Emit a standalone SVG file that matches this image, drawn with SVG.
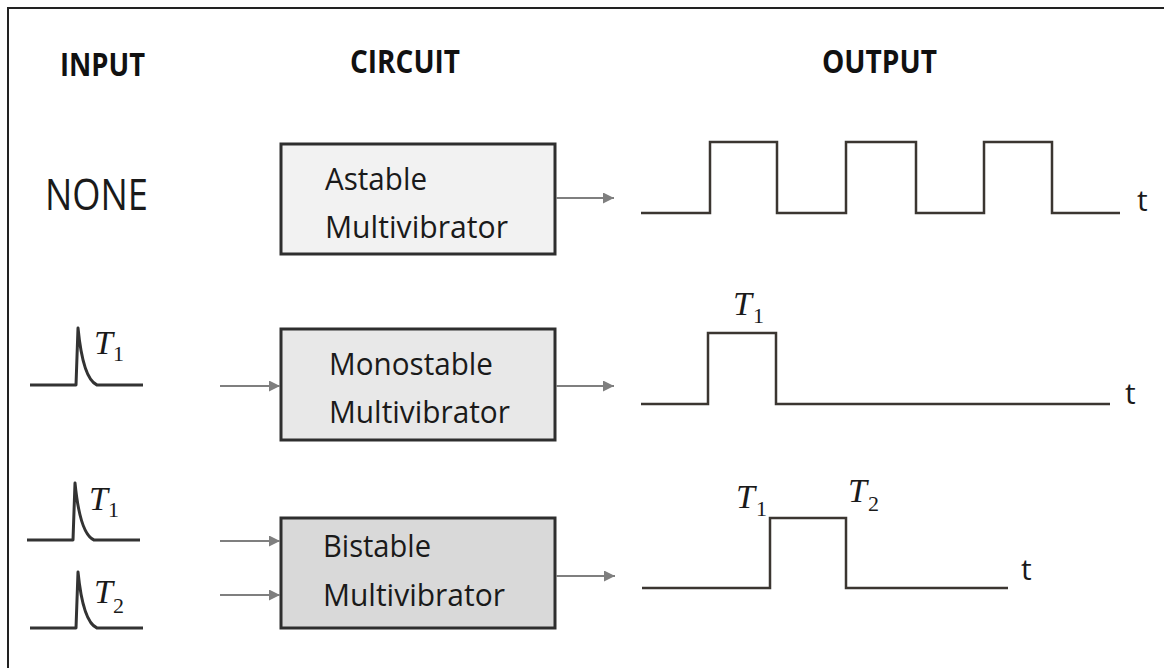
<svg xmlns="http://www.w3.org/2000/svg" width="1164" height="668" viewBox="0 0 1164 668">
  <defs>
    <marker id="arrowhead" viewBox="0 0 10 10" refX="10" refY="5" markerWidth="14" markerHeight="11" markerUnits="userSpaceOnUse" orient="auto">
      <path d="M0,0 L10,5 L0,10 z" fill="#7f7f7f"/>
    </marker>
  </defs>
  <style>
    .frame{fill:none;stroke:#222;stroke-width:2}
    .hdr{font-family:"Open Sans","Liberation Sans",sans-serif;font-weight:bold;font-size:33px;fill:#111}
    .lbl{font-family:"Open Sans","Liberation Sans",sans-serif;font-size:31px;fill:#1a1a1a}
    .big{font-size:44px}
    .tlbl{font-family:"Open Sans","Liberation Sans",sans-serif;font-size:30px;fill:#1a1a1a}
    .box{stroke:#2e2e2e;stroke-width:3}
    .wave{fill:none;stroke:#3b3631;stroke-width:2.5;stroke-linejoin:miter}
    .spike{fill:none;stroke:#333;stroke-width:3;stroke-linejoin:round}
    .conn{stroke:#7f7f7f;stroke-width:1.8;marker-end:url(#arrowhead)}
    .math{font-family:"Liberation Serif",serif;font-style:italic;font-size:34px;fill:#1a1a1a}
    .sub{font-family:"Liberation Serif",serif;font-style:normal;font-size:22px;fill:#1a1a1a}
  </style>

  <rect width="1164" height="668" fill="#fff"/>
  <!-- outer frame: top and left edges -->
  <path class="frame" d="M8,668 V8 H1164"/>

  <!-- column headers -->
  <g id="headers">
    <text class="hdr" x="60" y="76" textLength="85" lengthAdjust="spacingAndGlyphs">INPUT</text>
    <text class="hdr" x="350" y="73" textLength="110" lengthAdjust="spacingAndGlyphs">CIRCUIT</text>
    <text class="hdr" x="822" y="73" textLength="115" lengthAdjust="spacingAndGlyphs">OUTPUT</text>
  </g>

  <!-- inputs -->
  <g id="input-none">
    <text class="lbl big" x="45" y="210" textLength="103" lengthAdjust="spacingAndGlyphs">NONE</text>
  </g>
  <g id="input-mono">
    <path class="spike" d="M30,385 H76 L78,328 Q83,379 97,385 H143"/>
    <text class="math" x="94" y="354">T</text><text class="sub" x="113" y="361">1</text>
  </g>
  <g id="input-bi-t1">
    <path class="spike" d="M27,540 H73 L75,483 Q80,534 94,540 H140"/>
    <text class="math" x="89" y="510">T</text><text class="sub" x="108" y="517">1</text>
  </g>
  <g id="input-bi-t2">
    <path class="spike" d="M30,628 H76 L78,572 Q83,622 97,628 H143"/>
    <text class="math" x="94" y="603">T</text><text class="sub" x="113" y="613">2</text>
  </g>

  <!-- circuits -->
  <g id="astable">
    <rect class="box" x="281" y="144" width="274" height="110" fill="#f2f2f2"/>
    <text class="lbl" x="325" y="190" textLength="102" lengthAdjust="spacingAndGlyphs">Astable</text>
    <text class="lbl" x="325" y="238" textLength="183" lengthAdjust="spacingAndGlyphs">Multivibrator</text>
  </g>
  <g id="monostable">
    <rect class="box" x="281" y="329" width="274" height="111" fill="#e8e8e8"/>
    <text class="lbl" x="329" y="375" textLength="164" lengthAdjust="spacingAndGlyphs">Monostable</text>
    <text class="lbl" x="329" y="423" textLength="181" lengthAdjust="spacingAndGlyphs">Multivibrator</text>
  </g>
  <g id="bistable">
    <rect class="box" x="281" y="518" width="274" height="110" fill="#d9d9d9"/>
    <text class="lbl" x="323" y="557" textLength="108" lengthAdjust="spacingAndGlyphs">Bistable</text>
    <text class="lbl" x="323" y="606" textLength="182" lengthAdjust="spacingAndGlyphs">Multivibrator</text>
  </g>

  <!-- outputs -->
  <g id="output-astable">
    <path class="wave" d="M641,213 H710 V142 H777 V213 H846 V142 H916 V213 H984 V142 H1052 V213 H1120"/>
    <text class="tlbl" x="1137" y="211">t</text>
  </g>
  <g id="output-mono">
    <path class="wave" d="M641,404 H708 V333 H776 V404 H1110"/>
    <text class="math" x="733" y="315">T</text><text class="sub" x="753" y="323">1</text>
    <text class="tlbl" x="1125" y="404">t</text>
  </g>
  <g id="output-bi">
    <path class="wave" d="M642,588 H770 V518 H846 V588 H1008"/>
    <text class="math" x="736" y="508">T</text><text class="sub" x="756" y="516">1</text>
    <text class="math" x="848" y="502">T</text><text class="sub" x="868" y="511">2</text>
    <text class="tlbl" x="1021" y="580">t</text>
  </g>

  <!-- connectors -->
  <g id="connectors">
    <line class="conn" x1="556" y1="198" x2="614" y2="198"/>
    <line class="conn" x1="220" y1="386" x2="280" y2="386"/>
    <line class="conn" x1="556" y1="386" x2="614" y2="386"/>
    <line class="conn" x1="220" y1="541" x2="280" y2="541"/>
    <line class="conn" x1="220" y1="595" x2="280" y2="595"/>
    <line class="conn" x1="556" y1="576" x2="615" y2="576"/>
  </g>
</svg>
